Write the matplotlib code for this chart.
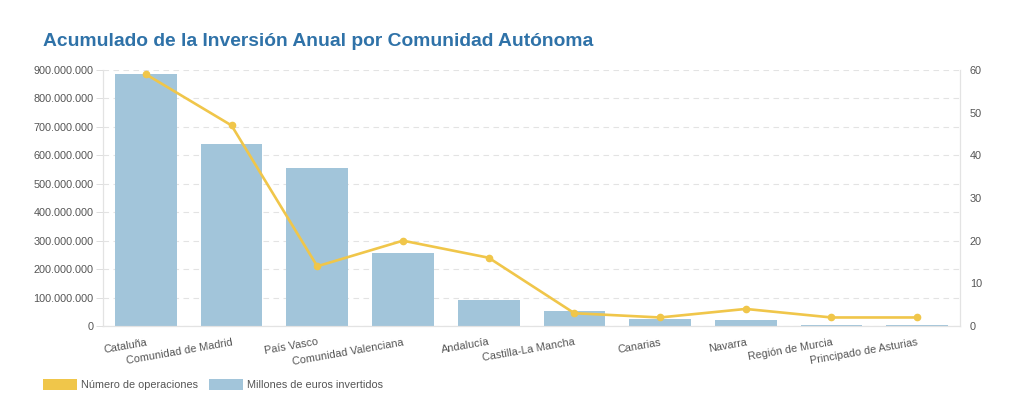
import matplotlib
matplotlib.use('Agg')
import matplotlib.pyplot as plt
from matplotlib.patches import Patch
from matplotlib.ticker import FuncFormatter

comunidades = ['Cataluña', 'Comunidad de Madrid', 'País Vasco', 'Comunidad Valenciana',
               'Andalucía', 'Castilla-La Mancha', 'Canarias', 'Navarra',
               'Región de Murcia', 'Principado de Asturias']
inversion = [885e6, 640e6, 555e6, 256e6, 91e6, 52e6, 25e6, 20e6, 3e6, 3e6]
operaciones = [59, 47, 14, 20, 16, 3, 2, 4, 2, 2]

bar_color = '#a2c5da'
line_color = '#f0c64a'
grey = '#555555'

plt.rcParams['font.family'] = ['Liberation Sans', 'DejaVu Sans']

fig = plt.figure(figsize=(10.24, 4.11), dpi=100)
ax = fig.add_axes([0.1006, 0.2068, 0.8369, 0.6229])
ax2 = ax.twinx()

x = range(len(comunidades))
ax.bar(x, inversion, width=0.72, color=bar_color, zorder=2)
ax2.plot(x, operaciones, color=line_color, lw=1.9, marker='o', markersize=4.5, zorder=3)

ax.set_xlim(-0.5, len(comunidades) - 0.5)
ax.set_ylim(0, 900e6)
ax.set_yticks([i * 100e6 for i in range(10)])
ax.yaxis.set_major_formatter(FuncFormatter(lambda v, p: f'{int(v):,}'.replace(',', '.')))
ax2.set_ylim(0, 60)
ax2.set_yticks(range(0, 61, 10))

ax.set_xticks(list(x))
ax.set_xticklabels(comunidades, rotation=10, ha='right', rotation_mode='anchor')
ax.tick_params(axis='x', length=0, pad=8, labelsize=7.8, labelcolor=grey)
ax.tick_params(axis='y', length=5, width=0.6, color='#d8d8d8', labelsize=7.8, labelcolor=grey, pad=2)
ax2.tick_params(axis='y', length=0, labelsize=7.8, labelcolor=grey, pad=7)

ax.grid(axis='y', color='#e3e3e3', linestyle=(0, (5, 4)), lw=0.8, zorder=0)
ax.set_axisbelow(True)
for a in (ax, ax2):
    a.spines['top'].set_visible(False)
    for side in ('left', 'right', 'bottom'):
        a.spines[side].set_color('#e3e3e3')
        a.spines[side].set_linewidth(0.8)

fig.text(0.042, 0.888, 'Acumulado de la Inversión Anual por Comunidad Autónoma',
         fontsize=13.9, fontweight='bold', color='#2f72a8')

handles = [Patch(facecolor=line_color, label='Número de operaciones'),
           Patch(facecolor=bar_color, label='Millones de euros invertidos')]
fig.legend(handles=handles, loc='lower left', bbox_to_anchor=(0.032, 0.028), ncol=2,
           frameon=False, fontsize=7.8, handlelength=3.2, handleheight=1.2,
           handletextpad=0.35, columnspacing=1.0, labelcolor=grey)

fig.savefig('out.png', dpi=100)
